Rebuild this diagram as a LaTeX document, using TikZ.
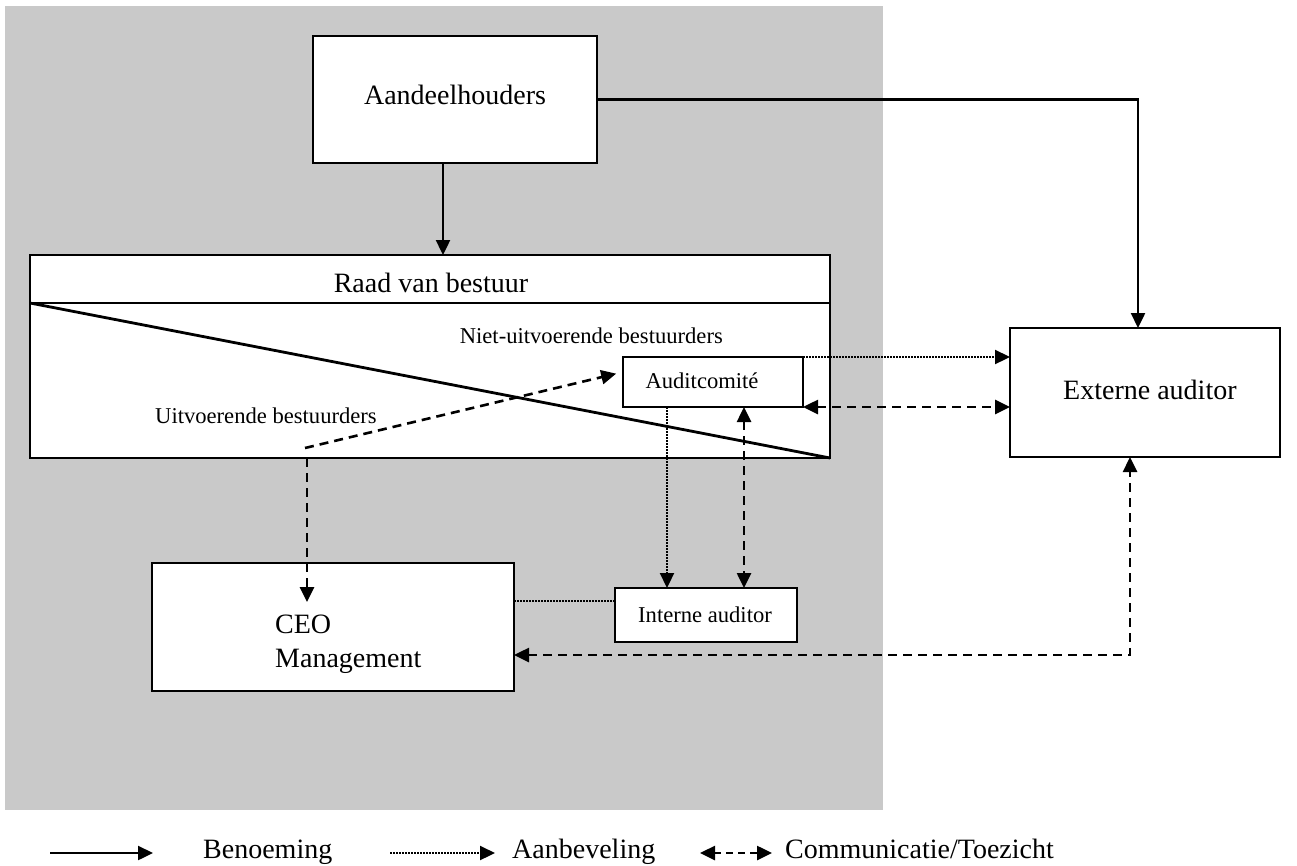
\documentclass[tikz,border=0pt]{standalone}
\usepackage{fontspec}
\setmainfont{Liberation Serif}
\usetikzlibrary{arrows.meta}
\begin{document}
\begin{tikzpicture}[x=1pt,y=-1pt,
  box/.style={draw=black,line width=2.8pt,fill=white,inner sep=0pt,outer sep=0pt},
  bigtxt/.style={font=\fontsize{28}{34}\selectfont,inner sep=0pt},
  smalltxt/.style={font=\fontsize{22.6}{27}\selectfont,inner sep=0pt},
  tip/.tip={Triangle[length=15pt,width=14pt]},
  benoem/.style={line width=2.4pt,-tip},
  aanbev/.style={line width=2.2pt,dash pattern=on 1.6pt off 1.4pt,-tip},
  comm/.style={line width=2.6pt,dash pattern=on 9pt off 6pt,tip-tip},
  commone/.style={line width=2.6pt,dash pattern=on 9pt off 6pt,-tip},
  plainline/.style={line width=2.8pt}
]
\useasboundingbox (0,0) rectangle (1297,865);
\fill[black!21] (5,6) rectangle (883,810);

% boxes
\node[box,minimum width=284pt,minimum height=127pt] (aand) at (455,99.5) {};
\node[box,minimum width=800pt,minimum height=203pt] (raad) at (430,356.5) {};
\coordinate (ydiv) at (0,303);
\draw[plainline] (raad.west |- ydiv) -- (raad.east |- ydiv);
\draw[plainline] (raad.west |- ydiv) -- (raad.south east);
\node[box,minimum width=180pt,minimum height=50pt] (audit) at (713,382) {};
\node[box,minimum width=270pt,minimum height=129pt] (ext) at (1145,392.5) {};
\node[box,minimum width=182pt,minimum height=54pt] (intern) at (706,615) {};
\node[box,minimum width=362pt,minimum height=128pt] (ceo) at (333,627) {};

% texts
\node[bigtxt,anchor=base] (taand) at (455,104) {Aandeelhouders};
\node[bigtxt,anchor=base] (traad) at (431,292) {Raad van bestuur};
\node[smalltxt,anchor=base east] (tniet) at (723,343) {Niet-uitvoerende bestuurders};
\node[smalltxt,anchor=base west] (tuitv) at (155,423) {Uitvoerende bestuurders};
\node[smalltxt,anchor=base] (taudit) at (702,388) {Auditcomité};
\node[bigtxt,anchor=base west] (text) at (1063,399) {Externe auditor};
\node[smalltxt,anchor=base west] (tint) at (638,622) {Interne auditor};
\node[bigtxt,anchor=west,align=left] (tceo) at (275,644) {CEO\\Management};

% connectors
\coordinate (xa) at (443,0);
\draw[benoem] (xa |- aand.south) -- (xa |- raad.north);
\coordinate (xe) at (1138,0);
\draw[benoem] (aand.east) -| (xe |- ext.north);
\draw[aanbev] (audit.north east) -- (ext.west |- audit.north east);
\draw[comm] (audit.south east) -- (ext.west |- audit.south east);
\coordinate (xd) at (667,0);
\draw[aanbev] (xd |- audit.south) -- (xd |- intern.north);
\coordinate (xc) at (744,0);
\draw[comm] (xc |- audit.south) -- (xc |- intern.north);
\coordinate (yd) at (0,601);
\draw[line width=2.2pt,dash pattern=on 1.6pt off 1.4pt] (ceo.east |- yd) -- (intern.west |- yd);
\coordinate (yc) at (0,655);
\coordinate (xb) at (1130,0);
\draw[comm] (ceo.east |- yc) -| (xb |- ext.south);
\coordinate (dstart) at (305,448);
\coordinate (ydiag) at (0,372);
\draw[commone,shorten >=7pt] (dstart) -- (audit.west |- ydiag);
\coordinate (xceo) at (307,0);
\coordinate (yceo) at (0,602);
\draw[commone] (xceo |- raad.south) -- (xceo |- yceo);

% legend
\coordinate (l1a) at (50,853);
\coordinate (l1b) at (153,853);
\draw[benoem] (l1a) -- (l1b);
\node[bigtxt,anchor=base west] (lb) at (203,858) {Benoeming};
\coordinate (l2a) at (390,853);
\coordinate (l2b) at (495,853);
\draw[aanbev] (l2a) -- (l2b);
\node[bigtxt,anchor=base west] (la) at (512,858) {Aanbeveling};
\coordinate (l3a) at (700,853);
\coordinate (l3b) at (772,853);
\draw[line width=2.6pt,dash pattern=on 7pt off 5pt,tip-tip] (l3a) -- (l3b);
\node[bigtxt,anchor=base west] (lc) at (785,858) {Communicatie/Toezicht};
\end{tikzpicture}
\end{document}
